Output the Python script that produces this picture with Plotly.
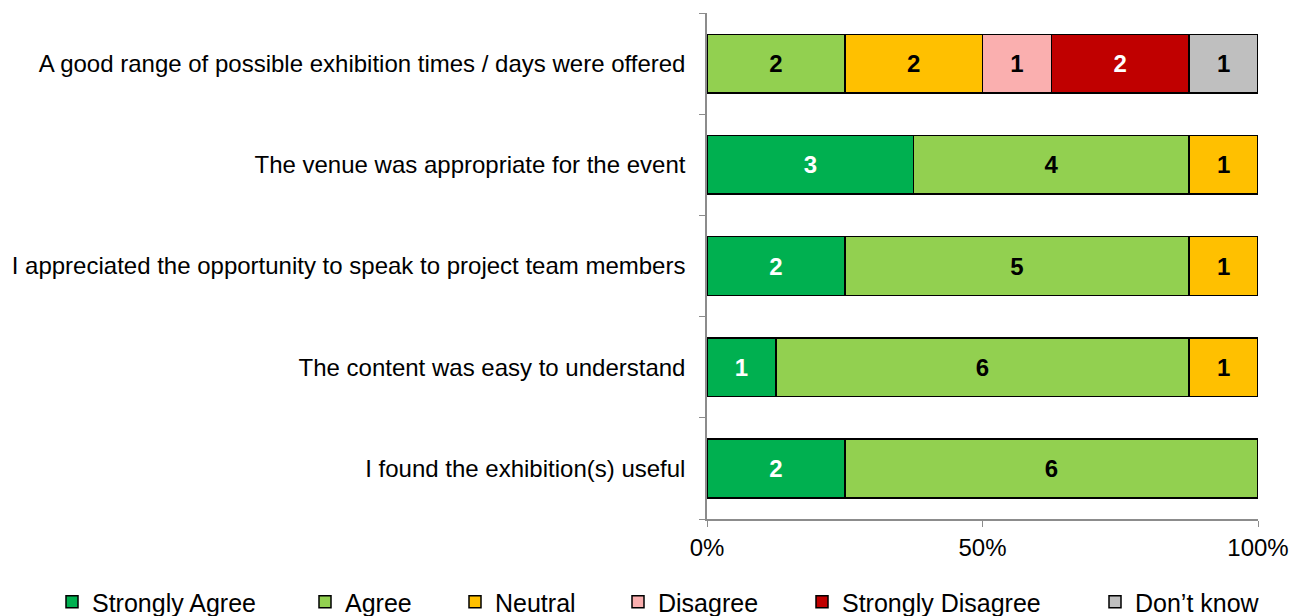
import plotly.graph_objects as go

categories = [
    "I found the exhibition(s) useful",
    "The content was easy to understand",
    "I appreciated the opportunity to speak to project team members",
    "The venue was appropriate for the event",
    "A good range of possible exhibition times / days were offered",
]
series_names = ["Strongly Agree", "Agree", "Neutral", "Disagree", "Strongly Disagree", "Don\u2019t know"]
strongly_agree = [2, 1, 2, 3, 0]
agree = [6, 6, 5, 4, 2]
neutral = [0, 1, 1, 1, 2]
disagree = [0, 0, 0, 0, 1]
strongly_disagree = [0, 0, 0, 0, 2]
dont_know = [0, 0, 0, 0, 1]
x_ticks = [0, 50, 100]
x_tick_labels = ["0%", "50%", "100%"]

series_values = [strongly_agree, agree, neutral, disagree, strongly_disagree, dont_know]
colors = ["#00B050", "#92D050", "#FFC000", "#FAAFAF", "#C00000", "#BFBFBF"]
text_colors = ["white", "black", "black", "black", "white", "black"]
legend_left_px = [52, 305, 455, 618, 802, 1095]

FONT = "Liberation Sans, Arial, sans-serif"
W, H = 1293, 616
fig = go.Figure()
legend_layout = {}
for i, (name, vals, col, tcol) in enumerate(zip(series_names, series_values, colors, text_colors)):
    lname = "legend" if i == 0 else f"legend{i + 1}"
    xs = [v if v else None for v in vals]
    fig.add_trace(go.Bar(
        y=categories, x=xs, name=name, orientation="h", legend=lname,
        marker=dict(color=col, line=dict(color="black", width=1.5)),
        text=[str(v) if v else "" for v in vals],
        textposition="inside", insidetextanchor="middle",
        textfont=dict(family=FONT, size=24, color=tcol, weight="bold"),
        textangle=0, hoverinfo="skip",
    ))
    legend_layout[lname] = dict(
        orientation="h", xref="container", yref="container",
        x=legend_left_px[i] / W, xanchor="left", y=14 / H, yanchor="middle",
        font=dict(size=25, family=FONT, color="black"), itemwidth=30,
        bgcolor="rgba(0,0,0,0)", borderwidth=0,
    )

fig.update_layout(
    barmode="stack", barnorm="percent", bargap=0.42,
    width=W, height=H,
    margin=dict(l=0, r=0, t=13, b=97, autoexpand=False),
    plot_bgcolor="white", paper_bgcolor="white",
    font=dict(family=FONT, color="black"),
    showlegend=True,
    **legend_layout,
)
fig.update_xaxes(domain=[707 / W, 1258 / W], automargin=False,
                 range=[0, 100], tickvals=x_ticks, ticktext=x_tick_labels,
                 showgrid=False, zeroline=False, showline=True, linecolor="#8C8C8C",
                 linewidth=1.5, ticks="outside", ticklen=6, tickcolor="#8C8C8C",
                 tickfont=dict(size=24, family=FONT))
fig.update_yaxes(automargin=False, showgrid=False, showline=True, linecolor="#8C8C8C", linewidth=1.5,
                 ticks="outside", ticklen=6, tickcolor="#8C8C8C", tickson="boundaries",
                 tickfont=dict(size=24, family=FONT), ticklabelstandoff=15)

fig.write_html("out.html", config={"displayModeBar": False},
               post_script="document.body.style.margin='0';")
